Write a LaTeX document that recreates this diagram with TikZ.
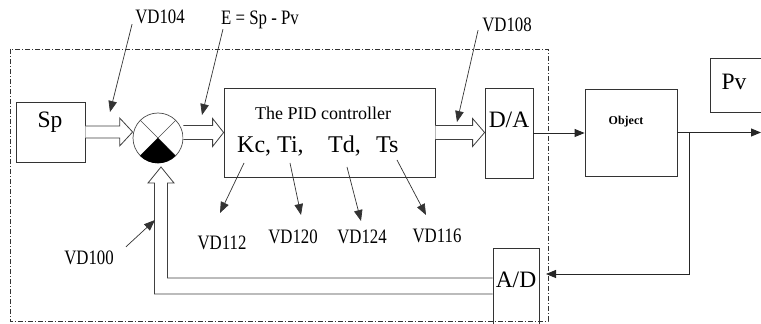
\documentclass[tikz,border=0pt]{standalone}
\usepackage{fontspec}
\setmainfont{Liberation Serif}
\newfontfamily\vdfont[FakeStretch=0.82]{Liberation Serif}
\usetikzlibrary{positioning,arrows.meta,calc}

\begin{document}
\begin{tikzpicture}[
  x=1pt, y=1pt,
  %--- blocks and texts ---
  blk/.style={draw=black!80, line width=0.8pt, inner sep=0pt},
  big/.style={font=\fontsize{23.5}{25}\selectfont, inner sep=0pt},
  par/.style={font=\fontsize{24}{26}\selectfont, inner sep=0pt, anchor=base west},
  vd/.style={font=\vdfont\fontsize{20.5}{22}\selectfont, inner sep=0pt},
  %--- arrows ---
  lab/.style={draw=black!80, line width=0.7pt, -{Triangle[length=11pt,width=8.5pt]}},
  sig/.style={draw=black!85, line width=0.9pt, -{Triangle[length=10pt,width=8pt]}},
  hollow/.style={draw=black!75, line width=0.8pt, fill=white},
  %--- frame ---
  frame/.style={draw=black!80, line width=0.7pt, dash pattern=on 5pt off 2pt on 1pt off 2pt}
]
\useasboundingbox (0,0) rectangle (761,324);

%% -- frame of the controller --
\draw[frame] (10,275) rectangle (548,3);

%% -- blocks --
\node[blk, minimum width=69, minimum height=60] (sp) at (50.5,192) {};
\node[big] (sptext) at (50,202) {Sp};

\node[circle, draw=black!70, line width=0.7pt, minimum size=50, inner sep=0pt] (circ) at (158,186) {};
\draw[black!70, line width=0.7pt] (circ.north west) -- (circ.south east);
\draw[black!70, line width=0.7pt] (circ.north east) -- (circ.south west);
\fill[black] (circ.center) -- (circ.south west) arc[start angle=225, end angle=315, radius=25] -- cycle;

\node[blk, minimum width=211, minimum height=89] (pid) at (329.5,191.5) {};
\node[font=\fontsize{18}{20}\selectfont, inner sep=0pt] (pidtitle) at (323,211) {The PID controller};
\node[par] (kc) at (237,171) {Kc,};
\node[par] (ti) at (277,171) {Ti,};
\node[par] (td) at (328,171) {Td,};
\node[par] (ts) at (376,171) {Ts};

\node[blk, minimum width=48, minimum height=90] (da) at (509,191) {};
\node[big] (datext) at (509,204) {D/A};

\node[blk, minimum width=92, minimum height=87] (obj) at (631,191.5) {};
\node[font=\bfseries\fontsize{12}{14}\selectfont, inner sep=0pt] (objtext) at (626,202) {Object};

\node[blk, minimum width=70, minimum height=54] (pv) at (745,239) {};
\node[big] (pvtext) at (734,242) {Pv};

\node[blk, minimum width=46, minimum height=90] (ad) at (516,31) {};
\node[big] (adtext) at (516,44) {A/D};

%% -- labels --
\node[vd] (vd104) at (160,307) {VD104};
\node[vd] (elab) at (260,304) {E = Sp - Pv};
\node[vd] (vd108) at (507,299) {VD108};
\node[vd] (vd112) at (222,81) {VD112};
\node[vd] (vd120) at (293,87) {VD120};
\node[vd] (vd124) at (362,87) {VD124};
\node[vd] (vd116) at (437,88) {VD116};
\node[vd] (vd100) at (89,66) {VD100};

%% -- hollow arrows --
\coordinate (h1) at (circ.west |- sp.east);
\draw[hollow] ([yshift=6]sp.east) -- ($(h1)+(-13,6)$) -- ($(h1)+(-13,14)$) -- (h1)
  -- ($(h1)+(-13,-14)$) -- ($(h1)+(-13,-6)$) -- ([yshift=-6]sp.east);
\coordinate (s2) at (circ.east |- pid.west);
\draw[hollow] ($(s2)+(0,7)$) -- ($(pid.west)+(-11,7)$) -- ($(pid.west)+(-11,14)$) -- (pid.west)
  -- ($(pid.west)+(-11,-14)$) -- ($(pid.west)+(-11,-7)$) -- ($(s2)+(0,-7)$);
\coordinate (h3) at (da.west |- pid.east);
\draw[hollow] ([yshift=7]pid.east) -- ($(h3)+(-12,7)$) -- ($(h3)+(-12,14)$) -- (h3)
  -- ($(h3)+(-12,-14)$) -- ($(h3)+(-12,-7)$) -- ([yshift=-7]pid.east);
\coordinate (fbtip) at (161,157);
\draw[hollow] ([yshift=15]ad.west) -| ($(fbtip)+(6.5,-16)$) -- ($(fbtip)+(13,-16)$) -- (fbtip)
  -- ($(fbtip)+(-13,-16)$) -- ($(fbtip)+(-6.5,-16)$) |- ([yshift=-1]ad.west);

%% -- signal arrows --
\coordinate (out) at (761,190);
\coordinate (br) at (689,0);
\coordinate (fbin) at (546,50);
\draw[sig] (da.east) -- (da.east -| obj.west);
\draw[sig] (obj.east) -- (obj.east -| out);
\draw[sig] (obj.east -| br) |- (fbin);

%% -- label arrows --
\coordinate (t104) at (110,212);
\coordinate (te) at (202,209);
\coordinate (t108) at (457,202);
\coordinate (t112) at (220,111);
\coordinate (t120) at (301,109);
\coordinate (t124) at (361,103);
\coordinate (t116) at (426,109);
\coordinate (t100) at (155,104);
\draw[lab] ([xshift=-3]vd104.south west) -- (t104);
\draw[lab] ([xshift=2]elab.south west) -- (te);
\draw[lab] ([shift={(-4,2)}]vd108.south west) -- (t108);
\draw[lab] ([shift={(7,-10)}]kc.base west) -- (t112);
\draw[lab] ([shift={(13,-10)}]ti.base west) -- (t120);
\draw[lab] ([shift={(19,-14)}]td.base west) -- (t124);
\draw[lab] ([shift={(21,-7)}]ts.base west) -- (t116);
\draw[lab] ([shift={(12,4)}]vd100.north east) -- (t100);
\end{tikzpicture}
\end{document}
